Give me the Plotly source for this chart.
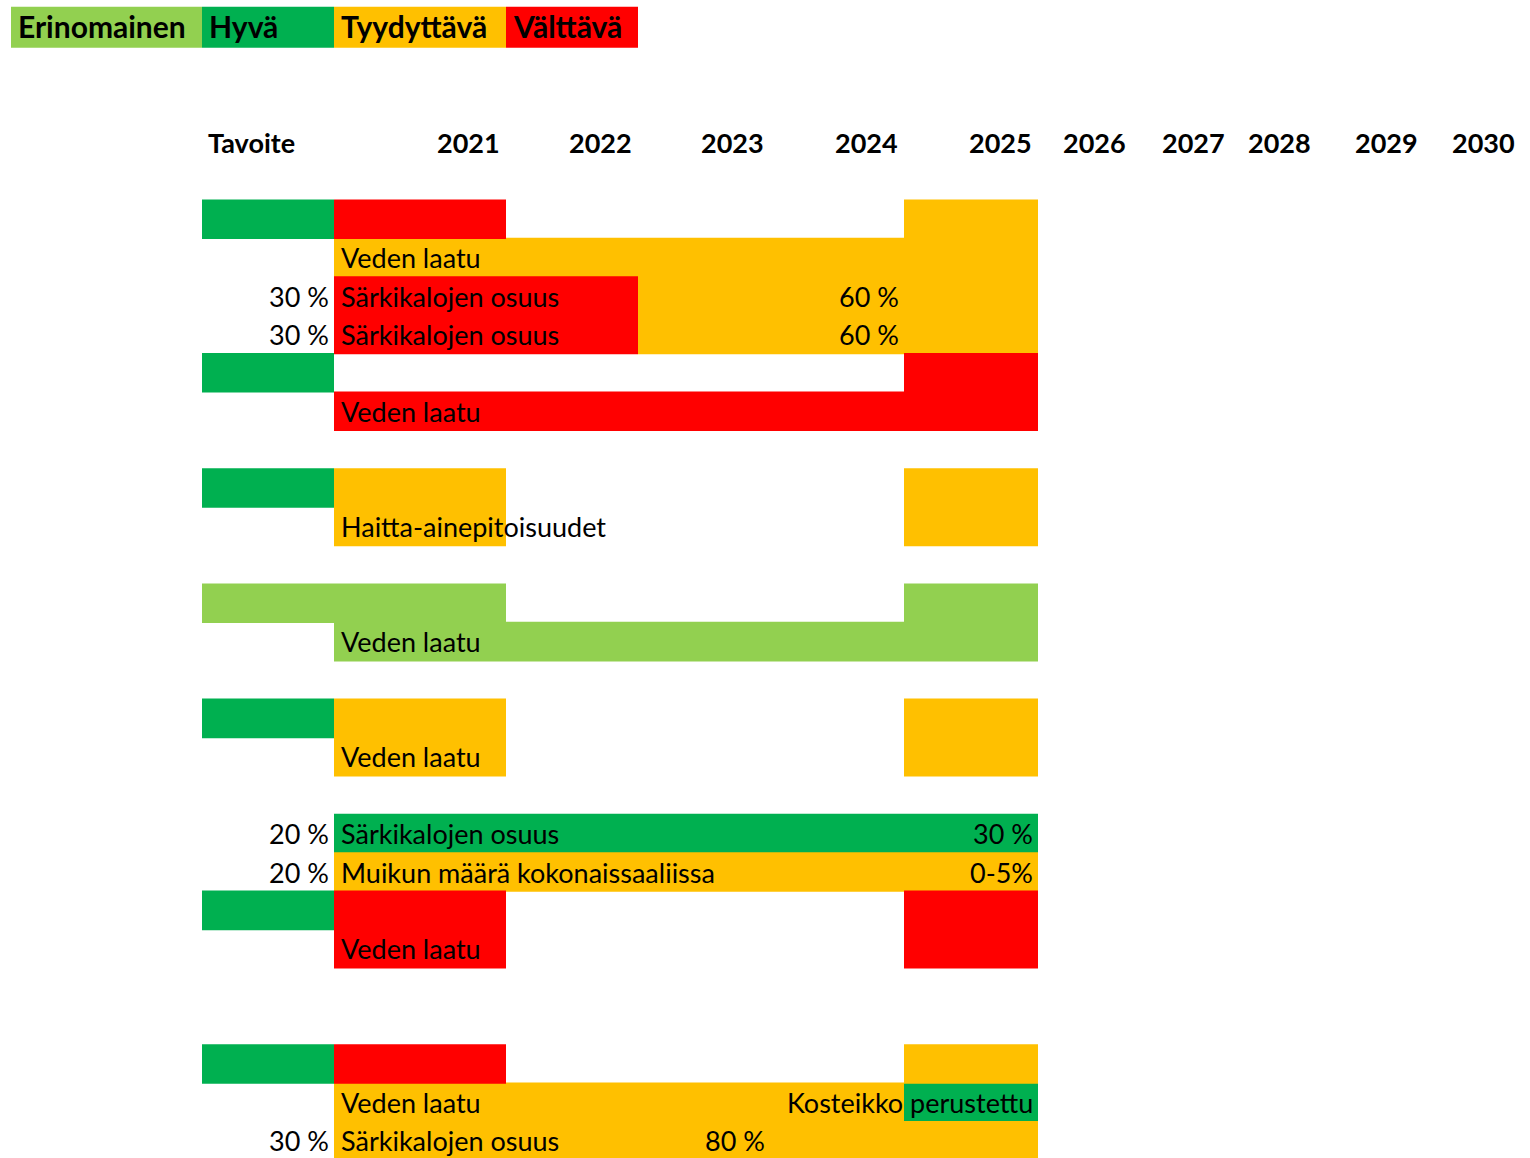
import plotly.graph_objects as go

# ---------------- data ----------------
status_names = ["Erinomainen", "Hyvä", "Tyydyttävä", "Välttävä"]
status_colors = ["#92D050", "#00B050", "#FFC000", "#FF0000"]

header_labels = ["Tavoite", "2021", "2022", "2023", "2024", "2025",
                 "2026", "2027", "2028", "2029", "2030"]
header_cols = ["B", "C", "D", "E", "F", "G", "H", "I", "J", "K", "L"]

# legend cells: (column, status)
legend_cols = ["A", "B", "C", "D"]

# coloured cells: row, first column, last column, status
cell_rows = [0, 0, 0, 1, 2, 2, 3, 3, 4, 4, 5,
             7, 7, 7, 8, 8, 10, 10, 11,
             13, 13, 13, 14, 14, 16, 17, 18, 18, 18, 19, 19,
             22, 22, 22, 23, 23, 24]
cell_first = ["B", "C", "G", "C", "C", "E", "C", "E", "B", "G", "C",
              "B", "C", "G", "C", "G", "B", "G", "C",
              "B", "C", "G", "C", "G", "C", "C", "B", "C", "G", "C", "G",
              "B", "C", "G", "C", "G", "C"]
cell_last = ["B", "C", "G", "G", "D", "G", "D", "G", "B", "G", "G",
             "B", "C", "G", "C", "G", "C", "G", "G",
             "B", "C", "G", "C", "G", "G", "G", "B", "C", "G", "C", "G",
             "B", "C", "G", "F", "G", "G"]
cell_status = ["Hyvä", "Välttävä", "Tyydyttävä", "Tyydyttävä", "Välttävä", "Tyydyttävä",
               "Välttävä", "Tyydyttävä", "Hyvä", "Välttävä", "Välttävä",
               "Hyvä", "Tyydyttävä", "Tyydyttävä", "Tyydyttävä", "Tyydyttävä",
               "Erinomainen", "Erinomainen", "Erinomainen",
               "Hyvä", "Tyydyttävä", "Tyydyttävä", "Tyydyttävä", "Tyydyttävä",
               "Hyvä", "Tyydyttävä", "Hyvä", "Välttävä", "Välttävä", "Välttävä", "Välttävä",
               "Hyvä", "Välttävä", "Tyydyttävä", "Tyydyttävä", "Hyvä", "Tyydyttävä"]

# cell texts: row, column, text, alignment
text_rows = [1, 2, 2, 2, 3, 3, 3, 5, 8, 11, 14,
             16, 16, 16, 17, 17, 17, 19, 23, 23, 24, 24, 24]
text_cols = ["C", "B", "C", "F", "B", "C", "F", "C", "C", "C", "C",
             "B", "C", "G", "B", "C", "G", "C", "C", "G", "B", "C", "E"]
text_values = ["Veden laatu", "30 %", "Särkikalojen osuus", "60 %",
               "30 %", "Särkikalojen osuus", "60 %", "Veden laatu",
               "Haitta-ainepitoisuudet", "Veden laatu", "Veden laatu",
               "20 %", "Särkikalojen osuus", "30 %",
               "20 %", "Muikun määrä kokonaissaaliissa", "0-5%",
               "Veden laatu", "Veden laatu", "Kosteikko perustettu",
               "30 %", "Särkikalojen osuus", "80 %"]
text_align = ["left", "right", "left", "right", "right", "left", "right", "left",
              "left", "left", "left", "right", "left", "right",
              "right", "left", "right", "left", "left", "right",
              "right", "left", "right"]

# ---------------- layout geometry ----------------
W, H = 1530, 1158
col_left = {"A": 11, "B": 202, "C": 334, "D": 506, "E": 638, "F": 770, "G": 904,
            "H": 1038, "I": 1138, "J": 1237, "K": 1323, "L": 1430}
col_right = {"A": 202, "B": 334, "C": 506, "D": 638, "E": 770, "F": 904, "G": 1038,
             "H": 1132, "I": 1231, "J": 1317, "K": 1424, "L": 1521}
ROW_TOP = 200.0
ROW_H = 38.4
LEGEND_ROW = -5
HEADER_ROW = -2
PAD_L, PAD_R = 5, 3
HPAD_L, HPAD_R = 4, 4
FONT = "Lato"
BODY_SIZE = 27
HEAD_SIZE = 27
LEG_SIZE = 30
color_of = dict(zip(status_names, status_colors))

fig = go.Figure()

# coloured cells, one trace per status
for name in status_names:
    ys, xs, bases = [], [], []
    for r, a, b, s in zip(cell_rows, cell_first, cell_last, cell_status):
        if s == name:
            ys.append(r)
            bases.append(col_left[a])
            xs.append(col_right[b] - col_left[a])
    fig.add_trace(go.Bar(orientation="h", y=ys, x=xs, base=bases, width=1.03,
                         marker=dict(color=color_of[name], line=dict(width=0)),
                         showlegend=False, hoverinfo="skip"))

# legend cells
fig.add_trace(go.Bar(orientation="h", y=[LEGEND_ROW] * len(legend_cols),
                     x=[col_right[c] - col_left[c] for c in legend_cols],
                     base=[col_left[c] for c in legend_cols], width=1.07,
                     marker=dict(color=status_colors, line=dict(width=0)),
                     showlegend=False, hoverinfo="skip"))

annotations = []
for c, name in zip(legend_cols, status_names):
    annotations.append(dict(x=col_left[c] + PAD_L, y=LEGEND_ROW - 0.03, text=name,
                            xanchor="left", yanchor="middle", showarrow=False,
                            font=dict(family=FONT, size=LEG_SIZE, color="black", weight="bold")))
for c, lab in zip(header_cols, header_labels):
    if lab == "Tavoite":
        x, xa = col_left[c] + HPAD_L, "left"
    else:
        x, xa = col_right[c] - HPAD_R, "right"
    annotations.append(dict(x=x, y=HEADER_ROW, text=lab,
                            xanchor=xa, yanchor="middle", showarrow=False,
                            font=dict(family=FONT, size=HEAD_SIZE, color="black", weight="bold")))
for r, c, t, al in zip(text_rows, text_cols, text_values, text_align):
    if al == "left":
        x, xa = col_left[c] + PAD_L, "left"
    else:
        x, xa = col_right[c] - PAD_R, "right"
    annotations.append(dict(x=x, y=r, text=t, xanchor=xa, yanchor="middle",
                            showarrow=False,
                            font=dict(family=FONT, size=BODY_SIZE, color="black")))

y_top = (0 - ROW_TOP) / ROW_H - 0.5
y_bot = (H - ROW_TOP) / ROW_H - 0.5

fig.update_layout(
    width=W, height=H, margin=dict(l=0, r=0, t=0, b=0),
    paper_bgcolor="white", plot_bgcolor="white",
    barmode="overlay",
    xaxis=dict(range=[0, W], visible=False, fixedrange=True),
    yaxis=dict(range=[y_bot, y_top], visible=False, fixedrange=True),
    annotations=annotations,
)

fig.write_html("out.html", config={"displayModeBar": False},
               post_script="document.body.style.margin='0';document.body.style.overflow='hidden';")
